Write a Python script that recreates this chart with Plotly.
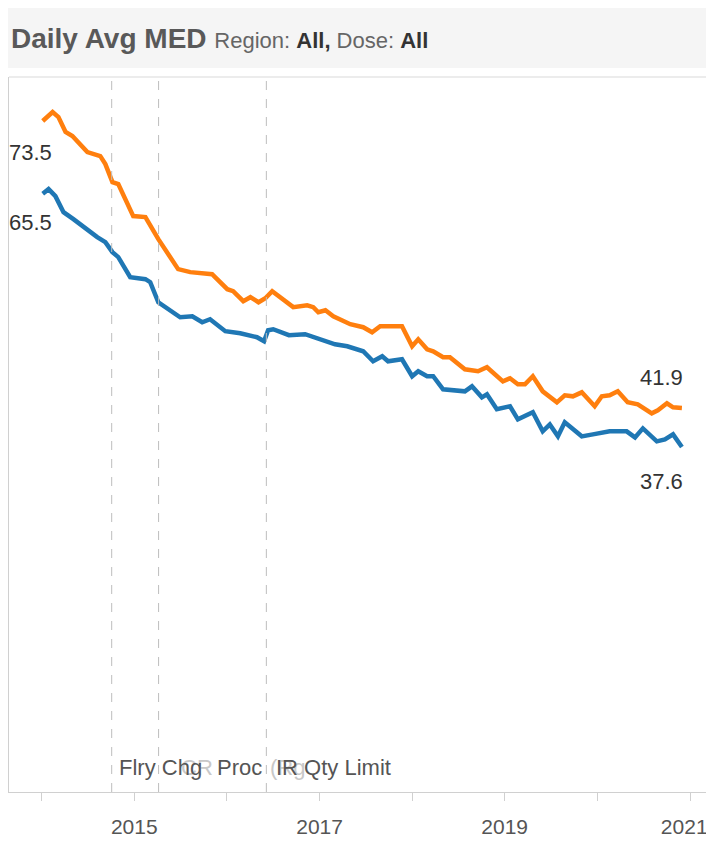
import plotly.graph_objects as go

# ---------------- data ----------------
orange_dates = [
    "2014-01-05", "2014-02-13", "2014-03-08", "2014-04-05", "2014-05-02", "2014-06-30",
    "2014-08-20", "2014-09-09", "2014-10-07", "2014-10-30", "2014-12-28", "2015-02-14",
    "2015-04-06", "2015-06-23", "2015-08-10", "2015-11-04", "2016-01-03", "2016-01-26",
    "2016-03-06", "2016-04-03", "2016-05-05", "2016-06-01", "2016-06-28", "2016-07-22",
    "2016-09-19", "2016-11-13", "2016-12-07", "2016-12-27", "2017-01-24", "2017-02-24",
    "2017-05-02", "2017-06-22", "2017-07-27", "2017-08-28", "2017-11-22", "2018-01-01",
    "2018-01-25", "2018-03-01", "2018-03-25", "2018-05-03", "2018-05-30", "2018-07-28",
    "2018-09-18", "2018-10-23", "2018-11-16", "2018-12-25", "2019-01-22", "2019-02-22",
    "2019-03-22", "2019-04-22", "2019-05-31", "2019-07-26", "2019-08-26", "2019-09-27",
    "2019-11-01", "2019-12-22", "2020-01-19", "2020-02-19", "2020-03-22", "2020-04-30",
    "2020-06-09", "2020-08-03", "2020-08-27", "2020-10-02", "2020-10-26", "2020-11-30",
]
orange_values = [
    73.5, 74.49, 73.94, 72.29, 71.85, 70.08,
    69.64, 68.76, 66.77, 66.55, 63.03, 62.92,
    60.49, 57.19, 56.86, 56.63, 54.98, 54.76,
    53.66, 54.10, 53.54, 53.98, 54.76, 54.21,
    53.00, 53.21, 53.00, 52.44, 52.66, 52.00,
    51.12, 50.79, 50.24, 50.90, 50.90, 48.69,
    49.46, 48.36, 48.14, 47.48, 47.48, 46.16,
    45.94, 46.38, 45.83, 44.83, 45.17, 44.50,
    44.50, 45.39, 43.73, 42.52, 43.29, 43.18,
    43.62, 42.08, 43.18, 43.29, 43.73, 42.52,
    42.30, 41.31, 41.64, 42.41, 41.97, 41.9,
]

blue_dates = [
    "2014-01-05", "2014-01-28", "2014-02-24", "2014-03-28", "2014-05-06", "2014-06-14",
    "2014-08-08", "2014-09-09", "2014-10-07", "2014-10-30", "2014-12-16", "2015-02-14",
    "2015-03-05", "2015-04-06", "2015-07-01", "2015-08-18", "2015-09-26", "2015-10-27",
    "2015-12-26", "2016-02-23", "2016-04-29", "2016-05-27", "2016-06-12", "2016-07-02",
    "2016-09-02", "2016-11-05", "2016-12-27", "2017-03-03", "2017-04-20", "2017-05-21",
    "2017-06-22", "2017-07-31", "2017-09-05", "2017-09-28", "2017-11-22", "2018-01-01",
    "2018-01-25", "2018-03-01", "2018-03-25", "2018-05-03", "2018-07-28", "2018-08-25",
    "2018-10-03", "2018-10-23", "2018-12-01", "2019-01-22", "2019-02-22", "2019-04-22",
    "2019-05-31", "2019-06-28", "2019-07-30", "2019-08-26", "2019-11-01", "2019-12-15",
    "2020-02-19", "2020-04-26", "2020-05-29", "2020-06-29", "2020-08-23", "2020-09-24",
    "2020-10-26", "2020-11-30",
]
blue_values = [
    65.5, 66.0, 65.23, 63.46, 62.70, 61.81,
    60.71, 60.16, 59.06, 58.51, 56.30, 56.08,
    55.75, 53.54, 51.89, 52.00, 51.34, 51.67,
    50.35, 50.13, 49.69, 49.24, 50.46, 50.57,
    49.91, 50.02, 49.58, 48.91, 48.69, 48.36,
    48.14, 47.04, 47.59, 47.04, 47.26, 45.39,
    45.94, 45.39, 45.39, 43.95, 43.73, 44.28,
    43.07, 43.40, 41.75, 42.08, 40.64, 41.42,
    39.32, 40.09, 38.77, 40.31, 38.77, 38.99,
    39.32, 39.32, 38.66, 39.65, 38.22, 38.44,
    38.99, 37.6,
]

event_dates = ["2014-10-04", "2015-04-07", "2016-06-05"]

tick_vals = ["2014-01-01", "2015-01-01", "2016-01-01", "2017-01-01",
             "2018-01-01", "2019-01-01", "2020-01-01", "2021-01-01"]
tick_text = ["", "2015", "", "2017", "", "2019", "", "2021\u00a0\u00a0"]

ORANGE = "#ff7f0e"
BLUE = "#1f77b4"
FONT = "Liberation Sans, Arial, sans-serif"

fig = go.Figure()
fig.add_trace(go.Scatter(x=orange_dates, y=orange_values, mode="lines",
                         line=dict(color=ORANGE, width=4.5), hoverinfo="skip",
                         showlegend=False))
fig.add_trace(go.Scatter(x=blue_dates, y=blue_values, mode="lines",
                         line=dict(color=BLUE, width=4.5), hoverinfo="skip",
                         showlegend=False))

shapes = []
# title band
shapes.append(dict(type="rect", xref="paper", yref="paper", x0=-0.02, x1=1.03,
                   y0=1.0126, y1=1.11, fillcolor="#f5f5f5", line=dict(width=0),
                   layer="below"))
# top border of plot area
shapes.append(dict(type="line", xref="paper", yref="paper", x0=0, x1=1.03,
                   y0=1, y1=1, line=dict(color="#d9d9d9", width=1)))
for d in event_dates:
    shapes.append(dict(type="line", xref="x", yref="paper", x0=d, x1=d, y0=0, y1=1,
                       line=dict(color="#bdbdbd", width=1, dash="dash")))

annotations = []
LBL = dict(family=FONT, size=22, color="#333")
annotations.append(dict(x=orange_dates[0], y=orange_values[0], text=f"{orange_values[0]:.1f}",
                        showarrow=False, xanchor="right", yanchor="middle",
                        xshift=11, yshift=-31, font=LBL))
annotations.append(dict(x=blue_dates[0], y=blue_values[0], text=f"{blue_values[0]:.1f}",
                        showarrow=False, xanchor="right", yanchor="middle",
                        xshift=11, yshift=-29, font=LBL))
annotations.append(dict(x=orange_dates[-1], y=orange_values[-1], text=f"{orange_values[-1]:.1f}",
                        showarrow=False, xanchor="right", yanchor="middle",
                        xshift=3, yshift=30, font=LBL))
annotations.append(dict(x=blue_dates[-1], y=blue_values[-1], text=f"{blue_values[-1]:.1f}",
                        showarrow=False, xanchor="right", yanchor="middle",
                        xshift=3, yshift=-35, font=LBL))

# event labels
EV_Y = 0.034
EVF = dict(family=FONT, size=22, color="#555")
FADED = dict(family=FONT, size=22, color="#c8c8c8")
annotations.append(dict(x=event_dates[1], y=EV_Y, yref="paper", text="CR", showarrow=False,
                        xanchor="left", yanchor="middle", xshift=20, font=FADED))
annotations.append(dict(x=event_dates[2], y=EV_Y, yref="paper", text="(Rg", showarrow=False,
                        xanchor="left", yanchor="middle", xshift=2, font=FADED))
annotations.append(dict(x=event_dates[0], y=EV_Y, yref="paper", text="Flry Chg", showarrow=False,
                        xanchor="left", yanchor="middle", xshift=5, font=EVF))
annotations.append(dict(x=event_dates[1], y=EV_Y, yref="paper", text="Proc", showarrow=False,
                        xanchor="left", yanchor="middle", xshift=56, font=EVF))
annotations.append(dict(x=event_dates[2], y=EV_Y, yref="paper", text="IR Qty Limit", showarrow=False,
                        xanchor="left", yanchor="middle", xshift=8, font=EVF))

# title
annotations.append(dict(xref="paper", yref="paper", x=0, y=1.0545, xanchor="left",
                        yanchor="middle", showarrow=False,
                        text=("<b>Daily Avg MED</b> "
                              "<span style='font-size:22px;color:#666'>Region: </span>"
                              "<span style='font-size:22px;color:#333'><b>All,</b></span>"
                              "<span style='font-size:22px;color:#666'> Dose: </span>"
                              "<span style='font-size:22px;color:#333'><b>All</b></span>"),
                        font=dict(family=FONT, size=28, color="#595959")))

fig.update_layout(
    width=698, height=830,
    margin=dict(l=1, r=0, t=69, b=46, autoexpand=False),
    paper_bgcolor="white", plot_bgcolor="white",
    shapes=shapes, annotations=annotations,
    xaxis=dict(type="date", range=["2013-08-25", "2021-03-05"],
               tickvals=tick_vals, ticktext=tick_text,
               ticks="outside", ticklen=8, tickcolor="#d0d0d0",
               ticklabelstandoff=8, ticklabeloverflow="allow",
               showgrid=False, zeroline=False,
               showline=True, linecolor="#d0d0d0", linewidth=1,
               tickfont=dict(family=FONT, size=21, color="#555")),
    yaxis=dict(range=[-0.4, 78.35], showticklabels=False, ticks="",
               showgrid=False, zeroline=False,
               showline=True, linecolor="#d0d0d0", linewidth=1),
)

fig.write_html("out.html")
